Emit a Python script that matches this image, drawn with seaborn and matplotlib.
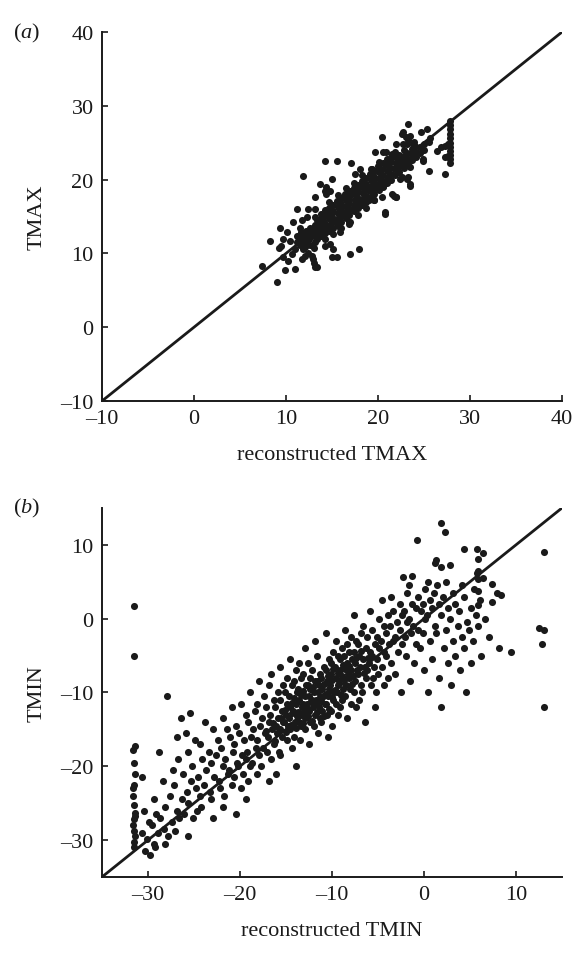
import matplotlib
matplotlib.use("Agg")
import matplotlib.pyplot as plt
import seaborn as sns
import pandas as pd

# ---------------- data ----------------
# (a) maximum temperature: reconstructed vs observed (scattered points)
tmax_rec_scatter = [
    23.3, 22.75, 23.5, 20.4, 22.0, 22.7, 23.1, 23.8, 19.7, 20.5, 20.9, 21.8,
    14.2, 15.5, 17.1, 11.9, 15.0, 13.7, 14.8, 14.2, 13.2, 11.2, 12.4, 13.2,
    20.8, 18.0, 19.3, 19.5, 20.5, 22.4, 23.1, 23.5, 21.5, 22.0, 19.3,
    10.8, 9.3, 8.3, 10.1, 9.7, 10.4, 9.2, 9.5, 11.0, 11.9, 12.4, 12.1, 9.7,
    10.2, 10.6, 9.9, 11.0, 9.0, 7.4, 12.8, 12.9, 13.0, 13.2, 13.4, 11.7,
    14.2, 14.8, 15.1, 15.0, 15.5, 17.0, 17.9, 15.9, 15.9, 16.8, 17.0, 20.8,
    11.5, 11.7, 12.3, 13.1, 13.7, 13.8, 13.3, 12.5, 11.8,
    27.8, 27.8, 27.8, 27.8, 27.8, 27.8, 27.8, 27.8, 27.8, 27.8, 27.8,
    27.3, 27.6, 27.3, 27.6, 24.7, 25.3, 22.6, 23.0, 23.3, 23.9, 25.7, 25.5,
    26.4, 26.9, 24.9, 24.9, 25.5, 27.3, 21.5, 23.3, 23.5, 22.6, 23.3, 23.5,
    21.7, 22.0, 20.4, 19.0, 19.6, 14.4, 14.4, 17.5,
]
tmax_obs_scatter = [
    27.5, 26.4, 25.9, 25.8, 24.8, 24.8, 24.8, 24.8, 23.7, 23.7, 23.7, 23.7,
    22.5, 22.5, 22.2, 20.5, 20.1, 19.4, 18.5, 18.5, 17.6, 16.0, 16.0, 16.0,
    15.6, 21.4, 21.4, 19.9, 19.2, 20.1, 20.1, 19.2, 18.0, 17.6, 17.6,
    14.2, 13.4, 11.7, 12.9, 12.0, 11.7, 10.8, 11.0, 10.6, 10.6, 10.1, 9.7, 9.5,
    9.0, 9.9, 7.7, 7.9, 6.1, 8.3, 9.7, 9.2, 8.7, 8.2, 8.1, 9.3,
    11.0, 11.3, 10.6, 9.5, 9.5, 9.9, 10.6, 12.9, 13.5, 14.0, 14.2, 15.3,
    13.5, 14.5, 14.9, 14.9, 14.3, 13.3, 12.5, 12.2, 12.6,
    28.0, 27.4, 26.8, 26.2, 25.6, 25.0, 24.4, 23.9, 23.3, 22.8, 22.3,
    24.6, 24.8, 23.0, 23.2, 26.4, 26.9, 26.2, 25.8, 25.3, 25.1, 25.7, 25.1,
    23.9, 24.4, 22.8, 22.5, 21.2, 20.8, 23.5, 22.1, 21.7, 20.3, 20.3, 19.4,
    17.8, 17.6, 17.6, 17.2, 17.2, 19.0, 18.0, 20.8,
]
# (a) the dense band along the diagonal: (reconstructed, observed)
tmax_band = [
    (11.2, 11.6), (11.25, 12.4), (11.6, 12.0), (11.65, 12.9), (11.55, 11.2),
    (12.1, 11.5), (12.05, 12.3), (12.15, 13.1), (12.1, 10.9),
    (12.6, 11.2), (12.55, 12.0), (12.65, 12.7), (12.6, 13.5),
    (13.1, 11.6), (13.05, 12.4), (13.15, 13.1), (13.1, 13.9), (13.05, 10.8),
    (13.4, 12.0), (13.45, 12.8), (13.35, 13.6), (13.4, 14.5),
    (13.8, 12.3), (13.85, 13.1), (13.75, 13.9), (13.8, 14.7), (13.85, 15.4),
    (14.2, 12.7), (14.25, 13.5), (14.15, 14.3), (14.2, 15.1), (14.25, 15.9), (14.2, 11.9),
    (14.7, 13.0), (14.65, 13.8), (14.75, 14.6), (14.7, 15.4), (14.65, 16.2), (14.7, 17.0),
    (15.1, 13.4), (15.15, 14.2), (15.05, 15.0), (15.1, 15.8), (15.15, 16.6), (15.1, 12.6),
    (15.6, 13.9), (15.55, 14.7), (15.65, 15.5), (15.6, 16.3), (15.55, 17.1), (15.6, 17.9),
    (16.0, 14.3), (16.05, 15.1), (15.95, 15.9), (16.0, 16.7), (16.05, 17.5), (16.0, 13.4),
    (16.5, 14.8), (16.45, 15.6), (16.55, 16.4), (16.5, 17.2), (16.45, 18.0), (16.5, 18.8),
    (16.9, 15.2), (16.95, 16.0), (16.85, 16.8), (16.9, 17.6), (16.95, 18.4), (16.9, 14.3),
    (17.4, 15.7), (17.35, 16.5), (17.45, 17.3), (17.4, 18.1), (17.35, 18.9), (17.4, 19.6),
    (17.8, 16.1), (17.85, 16.9), (17.75, 17.7), (17.8, 18.5), (17.85, 19.3), (17.8, 15.2),
    (18.3, 16.6), (18.25, 17.4), (18.35, 18.2), (18.3, 19.0), (18.25, 19.8), (18.3, 20.6),
    (18.7, 17.0), (18.75, 17.8), (18.65, 18.6), (18.7, 19.4), (18.75, 20.2), (18.7, 16.2),
    (19.2, 17.6), (19.15, 18.4), (19.25, 19.2), (19.2, 20.0), (19.15, 20.8), (19.2, 21.5),
    (19.6, 18.0), (19.65, 18.8), (19.55, 19.6), (19.6, 20.4), (19.65, 21.2), (19.6, 17.2),
    (20.1, 18.6), (20.05, 19.4), (20.15, 20.2), (20.1, 21.0), (20.05, 21.8), (20.1, 22.4),
    (20.5, 19.0), (20.55, 19.8), (20.45, 20.6), (20.5, 21.4), (20.55, 22.2),
    (21.0, 19.6), (20.95, 20.4), (21.05, 21.2), (21.0, 22.0), (20.95, 22.8),
    (21.4, 20.0), (21.45, 20.8), (21.35, 21.6), (21.4, 22.4), (21.45, 23.1),
    (21.9, 20.6), (21.85, 21.4), (21.95, 22.2), (21.9, 23.0),
    (22.3, 21.0), (22.35, 21.8), (22.25, 22.6), (22.3, 23.4),
    (22.8, 21.6), (22.75, 22.4), (22.85, 23.2), (22.8, 24.0),
    (23.2, 22.0), (23.25, 22.8), (23.15, 23.6),
    (23.7, 22.6), (23.65, 23.4), (23.75, 24.2),
    (24.1, 23.0), (24.15, 23.8), (24.05, 24.6),
    (24.6, 23.6), (24.55, 24.4), (25.0, 24.0), (25.05, 24.8),
]

# (b) minimum temperature: reconstructed vs observed
# column of stations at the coldest reconstructed value
tmin_cold_rec = [-31.5, -31.5, -31.4, -31.6, -31.5, -31.4, -31.5, -31.6, -31.5,
                 -31.4, -31.5, -31.6, -31.5, -31.4, -31.5, -31.5, -31.6, -31.4]
tmin_cold_obs = [1.7, -5.0, -17.2, -17.8, -19.5, -21.0, -22.5, -24.0, -25.2,
                 -26.3, -27.2, -28.0, -28.8, -29.5, -30.2, -31.0, -23.0, -26.8]
# cold tail: (reconstructed, observed)
tmin_tail = [
    (-30.6, -21.5), (-30.4, -26.0), (-30.7, -29.0), (-30.3, -31.5),
    (-29.9, -27.5), (-30.1, -29.8), (-29.8, -32.0),
    (-29.3, -24.5), (-29.6, -28.0), (-29.4, -30.5),
    (-28.8, -18.0), (-29.1, -26.5), (-28.9, -29.0), (-29.2, -31.0),
    (-28.4, -22.0), (-28.7, -27.0), (-28.3, -28.5),
    (-27.9, -10.5), (-28.2, -25.5), (-27.8, -29.5), (-28.1, -30.5),
    (-27.3, -20.5), (-27.6, -24.0), (-27.4, -27.5),
    (-26.8, -16.0), (-27.2, -22.5), (-26.9, -26.0), (-27.1, -28.8),
    (-26.4, -13.5), (-26.7, -19.0), (-26.3, -24.5), (-26.6, -27.0),
    (-25.9, -15.5), (-26.2, -21.0), (-25.8, -23.5), (-26.1, -26.5), (-25.7, -29.5),
    (-25.4, -12.8), (-25.6, -18.0), (-25.3, -22.0), (-25.7, -25.0),
    (-24.9, -16.5), (-25.2, -20.0), (-24.8, -23.0), (-25.1, -27.0),
    (-24.3, -17.0), (-24.6, -21.5), (-24.4, -24.0), (-24.7, -26.0),
    (-23.8, -14.0), (-24.1, -19.0), (-23.9, -22.5), (-24.2, -25.5),
    (-23.4, -18.0), (-23.7, -20.5), (-23.3, -23.5),
    (-22.9, -15.0), (-23.1, -19.5), (-22.8, -21.5), (-23.2, -24.5), (-22.9, -27.0),
    (-22.4, -16.5), (-22.6, -18.5), (-22.3, -22.0),
    (-21.9, -13.5), (-22.1, -17.5), (-21.8, -20.0), (-22.2, -23.0), (-21.9, -25.5),
    (-21.4, -15.0), (-21.6, -19.0), (-21.3, -21.0), (-21.7, -24.0),
    (-20.9, -12.0), (-21.1, -16.0), (-20.8, -18.0), (-21.2, -20.5), (-20.9, -22.5),
    (-20.4, -14.5), (-20.6, -17.0), (-20.3, -19.5), (-20.7, -21.5), (-20.4, -26.5),
    (-19.9, -11.5), (-20.1, -15.5), (-19.8, -18.5), (-20.2, -20.0), (-19.9, -23.0),
    (-19.4, -13.0), (-19.6, -16.5), (-19.3, -19.0), (-19.7, -21.0), (-19.4, -24.5),
    (-18.9, -10.0), (-19.1, -14.0), (-18.8, -16.0), (-19.2, -18.0), (-18.9, -20.0), (-19.1, -22.0),
    (-18.4, -12.5), (-18.6, -15.0), (-18.3, -17.5), (-18.7, -19.5),
    (-17.9, -8.5), (-18.1, -11.5), (-17.8, -14.5), (-18.2, -16.5), (-17.9, -18.5), (-18.1, -21.0),
]
# dense core: (reconstructed, observed)
tmin_core = [
    (-17.4, -10.5), (-17.65, -13.5), (-17.3, -15.5), (-17.55, -17.5), (-17.7, -20.0),
    (-16.9, -9.0), (-17.15, -12.0), (-16.8, -14.0), (-17.2, -15.2), (-16.95, -16.0), (-17.1, -18.0), (-16.85, -22.0),
    (-16.6, -7.5), (-16.35, -11.0), (-16.7, -13.0), (-16.4, -14.2), (-16.55, -15.0), (-16.3, -17.0), (-16.65, -19.0),
    (-15.9, -10.0), (-16.15, -12.0), (-15.85, -13.5), (-16.1, -14.6), (-15.95, -15.5), (-16.2, -16.6), (-15.8, -18.0), (-16.05, -21.0),
    (-15.6, -6.5), (-15.35, -9.0), (-15.65, -11.0), (-15.4, -12.5), (-15.55, -13.4), (-15.3, -14.0), (-15.7, -15.0), (-15.45, -16.0), (-15.6, -18.5),
    (-14.9, -8.0), (-15.15, -10.0), (-14.85, -11.5), (-15.1, -12.4), (-14.95, -13.0), (-15.2, -14.0), (-14.8, -14.5), (-15.05, -15.4), (-14.9, -16.5),
    (-14.6, -5.5), (-14.35, -9.0), (-14.65, -10.5), (-14.4, -11.4), (-14.55, -12.0), (-14.3, -12.8), (-14.7, -13.5), (-14.45, -14.4), (-14.6, -15.0), (-14.4, -17.5),
    (-13.9, -7.0), (-14.15, -8.5), (-13.85, -10.0), (-14.1, -10.8), (-13.95, -11.5), (-14.2, -12.5), (-13.8, -13.2), (-14.05, -14.0), (-13.9, -14.8), (-14.15, -16.0), (-13.95, -20.0),
    (-13.6, -6.0), (-13.35, -8.0), (-13.65, -9.5), (-13.4, -10.4), (-13.55, -11.0), (-13.3, -12.0), (-13.7, -12.6), (-13.45, -13.0), (-13.6, -14.0), (-13.35, -14.5), (-13.5, -16.5),
    (-12.9, -4.0), (-13.15, -7.5), (-12.85, -9.0), (-13.1, -9.8), (-12.95, -10.5), (-13.2, -11.5), (-12.8, -12.0), (-13.05, -12.5), (-12.9, -13.5), (-13.15, -14.2), (-12.95, -15.0),
    (-12.6, -6.0), (-12.35, -8.0), (-12.65, -9.0), (-12.4, -9.5), (-12.55, -10.5), (-12.3, -11.2), (-12.7, -11.5), (-12.45, -12.5), (-12.6, -13.2), (-12.35, -14.0), (-12.5, -17.0),
    (-11.9, -3.0), (-12.15, -7.0), (-11.85, -8.5), (-12.1, -9.3), (-11.95, -10.0), (-12.2, -11.0), (-11.8, -11.6), (-12.05, -12.0), (-11.9, -13.0), (-12.15, -13.8), (-11.95, -14.5),
    (-11.6, -5.0), (-11.35, -7.5), (-11.65, -8.4), (-11.4, -9.0), (-11.55, -10.0), (-11.3, -10.6), (-11.7, -11.0), (-11.45, -12.0), (-11.6, -12.6), (-11.35, -13.5), (-11.5, -15.5),
    (-10.9, -6.5), (-11.15, -8.0), (-10.85, -8.8), (-11.1, -9.5), (-10.95, -10.5), (-11.2, -11.2), (-10.8, -11.5), (-11.05, -12.5), (-10.9, -13.2), (-11.15, -14.0),
    (-10.6, -2.0), (-10.35, -5.5), (-10.65, -7.0), (-10.4, -7.8), (-10.55, -8.5), (-10.3, -9.5), (-10.7, -10.2), (-10.45, -10.5), (-10.6, -11.5), (-10.35, -12.2), (-10.5, -13.0), (-10.4, -16.0),
    (-9.9, -4.5), (-10.15, -6.0), (-9.85, -6.8), (-10.1, -7.5), (-9.95, -8.3), (-10.2, -9.0), (-9.8, -10.0), (-10.05, -10.6), (-9.9, -11.0), (-10.15, -12.5), (-9.95, -14.5),
    (-9.6, -3.0), (-9.35, -5.0), (-9.65, -6.5), (-9.4, -7.3), (-9.55, -8.0), (-9.3, -9.0), (-9.7, -9.6), (-9.45, -10.0), (-9.6, -11.5), (-9.35, -13.0),
    (-8.9, -4.0), (-9.15, -5.5), (-8.85, -6.3), (-9.1, -7.0), (-8.95, -7.8), (-9.2, -8.5), (-8.8, -9.5), (-9.05, -10.3), (-8.9, -11.0), (-9.15, -12.0),
    (-8.6, -1.5), (-8.35, -3.5), (-8.65, -5.0), (-8.4, -6.0), (-8.55, -6.8), (-8.3, -7.5), (-8.7, -8.2), (-8.45, -9.0), (-8.6, -10.5), (-8.35, -13.5),
    (-7.9, -2.5), (-8.15, -4.5), (-7.85, -5.5), (-8.1, -6.4), (-7.95, -7.0), (-8.2, -8.0), (-7.8, -8.8), (-8.05, -9.5), (-7.9, -11.5),
    (-7.6, 0.5), (-7.35, -3.0), (-7.65, -4.5), (-7.4, -5.3), (-7.55, -6.0), (-7.3, -7.0), (-7.7, -7.8), (-7.45, -8.5), (-7.6, -10.0), (-7.35, -12.0),
    (-6.9, -2.0), (-7.15, -3.5), (-6.85, -4.4), (-7.1, -5.0), (-6.95, -6.5), (-7.2, -7.5), (-6.8, -9.0), (-7.05, -11.0),
    (-6.6, -1.0), (-6.35, -4.0), (-6.65, -5.5), (-6.4, -6.5), (-6.55, -7.3), (-6.3, -8.0), (-6.7, -10.0), (-6.45, -14.0),
    (-5.9, 1.0), (-6.15, -2.5), (-5.85, -4.5), (-6.1, -5.3), (-5.95, -6.0), (-6.2, -7.0), (-5.8, -9.0),
    (-5.6, -1.5), (-5.35, -3.5), (-5.65, -5.0), (-5.4, -6.5), (-5.55, -8.0), (-5.3, -12.0),
    (-4.9, 0.0), (-5.15, -2.5), (-4.85, -4.0), (-5.1, -5.5), (-4.95, -7.5), (-5.2, -10.0),
]
# warm side: (reconstructed, observed)
tmin_warm = [
    (-4.6, 2.5), (-4.35, -1.0), (-4.65, -3.0), (-4.4, -4.5), (-4.55, -6.5), (-4.3, -9.0),
    (-3.9, 0.5), (-4.15, -2.0), (-3.85, -3.5), (-4.1, -5.0), (-3.95, -8.0),
    (-3.6, 3.0), (-3.35, 1.0), (-3.65, -1.0), (-3.4, -3.0), (-3.55, -6.0),
    (-2.9, -0.5), (-3.15, -2.5), (-2.85, -4.5), (-3.1, -7.5),
    (-2.6, 2.0), (-2.35, 0.5), (-2.65, -1.5), (-2.4, -3.5), (-2.55, -10.0),
    (-1.9, 3.5), (-2.15, 1.0), (-1.85, -0.5), (-2.1, -2.5), (-1.95, -5.0),
    (-1.6, 4.5), (-1.35, 2.0), (-1.65, 0.0), (-1.4, -2.0), (-1.55, -8.5),
    (-0.9, 1.5), (-1.15, -1.0), (-0.85, -3.5), (-1.1, -6.0),
    (-0.6, 3.0), (-0.35, 1.0), (-0.65, -1.5), (-0.4, -4.0),
    (0.1, 4.0), (-0.15, 2.0), (0.15, 0.0), (-0.1, -2.0), (0.05, -7.0),
    (0.4, 5.0), (0.65, 2.5), (0.35, 0.5), (0.6, -3.0), (0.45, -10.0),
    (1.1, 3.5), (0.85, 1.5), (1.15, -1.0), (0.9, -5.5),
    (1.4, 4.5), (1.65, 2.0), (1.35, -2.0), (1.6, -8.0),
    (2.1, 3.0), (1.85, 0.5), (2.15, -4.0), (1.9, -12.0),
    (2.4, 5.0), (2.65, 1.5), (2.35, -1.5), (2.6, -6.0),
    (3.1, 3.5), (2.85, 0.0), (3.15, -3.0), (2.9, -9.0),
    (3.4, 2.0), (3.65, -1.0), (3.35, -5.0),
    (4.1, 4.5), (3.85, 1.0), (4.15, -2.5), (3.9, -7.0),
    (4.4, 3.0), (4.65, -0.5), (4.35, -4.0), (4.6, -10.0),
    (5.1, 1.5), (4.85, -1.5), (5.15, -6.0),
    (5.4, 4.0), (5.65, 0.5), (5.35, -3.0),
    (6.1, 2.5), (5.85, -1.0), (6.15, -5.0),
    (6.4, 5.5), (6.6, 0.0), (7.1, -2.5), (7.9, 3.5), (8.1, -4.0),
]
# isolated points in panel (b)
tmin_extra_rec = [-0.8, 1.8, 2.3, 4.3, 5.8, 6.4, 5.9, 1.3, 1.8, 2.8, 1.2, 13.0,
                  5.8, -2.3, -1.3, 5.9, 5.9, 7.35, 5.9, 8.4, 7.35, 5.9,
                  9.5, 12.5, 13.0, 12.8, 13.0]
tmin_extra_obs = [10.7, 13.0, 11.7, 9.5, 9.5, 8.9, 8.1, 7.9, 7.0, 7.3, 7.5, 9.1,
                  6.2, 5.6, 5.8, 6.4, 5.4, 4.7, 3.75, 3.2, 2.3, 1.9,
                  -4.5, -1.3, -1.5, -3.5, -12.0]

# axis settings
tmax_lim = [-10, 40]
tmin_lim = [-35, 15]
tmax_ticks = [-10, 0, 10, 20, 30, 40]
tmin_ticks = [-30, -20, -10, 0, 10]

# ---------------- assemble ----------------
tmax_rec = tmax_rec_scatter + [p[0] for p in tmax_band]
tmax_obs = tmax_obs_scatter + [p[1] for p in tmax_band]
tmin_groups = tmin_tail + tmin_core + tmin_warm
tmin_rec = tmin_cold_rec + [p[0] for p in tmin_groups] + tmin_extra_rec
tmin_obs = tmin_cold_obs + [p[1] for p in tmin_groups] + tmin_extra_obs

df_a = pd.DataFrame({"rec": tmax_rec, "obs": tmax_obs})
df_b = pd.DataFrame({"rec": tmin_rec, "obs": tmin_obs})

# ---------------- style ----------------
sns.set_theme(style="ticks")
plt.rcParams["font.family"] = ["Liberation Serif", "DejaVu Serif"]
plt.rcParams["mathtext.fontset"] = "custom"
plt.rcParams["mathtext.rm"] = "Liberation Serif"
plt.rcParams["mathtext.it"] = "Liberation Serif:italic"

FS = 16
INK = "#1a1a1a"
fig = plt.figure(figsize=(5.72, 9.54), dpi=100)
ax_a = fig.add_axes([0.1783, 0.5786, 0.8042, 0.3868])
ax_b = fig.add_axes([0.1783, 0.0797, 0.8042, 0.3868])

panels = [
    (ax_a, df_a, tmax_lim, tmax_ticks, "reconstructed TMAX", "TMAX", r"($a$)"),
    (ax_b, df_b, tmin_lim, tmin_ticks, "reconstructed TMIN", "TMIN", r"($b$)"),
]

for ax, df, lim, ticks, xl, yl, tag in panels:
    sns.scatterplot(data=df, x="rec", y="obs", ax=ax, color=INK,
                    s=26, linewidth=0, zorder=3)
    # 1:1 reference line
    sns.lineplot(x=lim, y=lim, ax=ax, color=INK, linewidth=2.0, zorder=2)
    ax.set_xlim(lim)
    ax.set_ylim(lim)
    ax.set_xticks(ticks)
    ax.set_yticks(ticks)
    ax.set_xticklabels([str(t).replace("-", "\u2013") for t in ticks])
    ax.set_yticklabels([str(t).replace("-", "\u2013") for t in ticks])
    ax.tick_params(direction="in", length=4, width=1.2, labelsize=FS,
                   color=INK, labelcolor=INK, pad=6)
    ax.set_xlabel(xl, fontsize=FS, color=INK, labelpad=12)
    ax.set_ylabel(yl, fontsize=FS, color=INK, labelpad=10)
    for side in ["left", "bottom"]:
        ax.spines[side].set_linewidth(1.4)
        ax.spines[side].set_color(INK)
    sns.despine(ax=ax)
    ax.text(-0.135, 1.0, tag, transform=ax.transAxes, fontsize=FS,
            ha="right", va="center", color=INK)

fig.savefig("out.png", dpi=100)
